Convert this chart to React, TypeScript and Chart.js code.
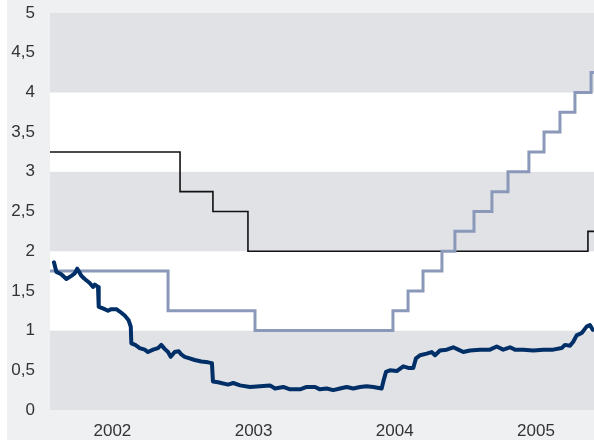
import React, { useEffect, useRef } from "react";
import { Chart, registerables } from "chart.js";

Chart.register(...registerables);

// x values are decimal years
const xMin = 2002.058;
const xMax = 2005.911;
const yearTicks = [2002.5, 2003.5, 2004.5, 2005.5];
const yTickValues = [0, 0.5, 1, 1.5, 2, 2.5, 3, 3.5, 4, 4.5, 5];

const ecbDates = [2002.058, 2002.979, 2003.212, 2003.46, 2005.868, 2005.911];
const ecbRates = [3.25, 2.75, 2.5, 2.0, 2.25, 2.25];

const fedDates = [
  2002.058, 2002.894, 2003.51, 2004.487, 2004.594, 2004.7, 2004.834, 2004.926,
  2005.061, 2005.188, 2005.302, 2005.45, 2005.557, 2005.67, 2005.776, 2005.89, 2005.911,
];
const fedRates = [
  1.75, 1.25, 1.0, 1.25, 1.5, 1.75, 2.0, 2.25, 2.5, 2.75, 3.0, 3.25, 3.5, 3.75, 4.0, 4.25, 4.25,
];

const liborDates = [
  2002.086, 2002.103, 2002.138, 2002.174, 2002.209, 2002.233, 2002.251, 2002.28, 2002.304,
  2002.339, 2002.363, 2002.375, 2002.398, 2002.403, 2002.433, 2002.469, 2002.492, 2002.528,
  2002.552, 2002.587, 2002.615, 2002.63, 2002.634, 2002.662, 2002.693, 2002.729, 2002.752,
  2002.788, 2002.823, 2002.846, 2002.87, 2002.894, 2002.913, 2002.941, 2002.97, 2002.988,
  2003.012, 2003.047, 2003.083, 2003.13, 2003.177, 2003.205, 2003.212, 2003.248, 2003.319,
  2003.356, 2003.404, 2003.475, 2003.545, 2003.616, 2003.652, 2003.71, 2003.758, 2003.829,
  2003.876, 2003.935, 2003.97, 2004.018, 2004.064, 2004.112, 2004.159, 2004.206, 2004.254,
  2004.301, 2004.348, 2004.407, 2004.419, 2004.438, 2004.466, 2004.514, 2004.56, 2004.596,
  2004.631, 2004.65, 2004.679, 2004.726, 2004.761, 2004.785, 2004.82, 2004.868, 2004.914,
  2004.95, 2004.985, 2005.033, 2005.103, 2005.174, 2005.222, 2005.268, 2005.316, 2005.351,
  2005.41, 2005.481, 2005.552, 2005.622, 2005.682, 2005.705, 2005.741, 2005.764, 2005.788,
  2005.824, 2005.859, 2005.882, 2005.902,
];
const liborRates = [
  1.86, 1.74, 1.71, 1.65, 1.69, 1.72, 1.78, 1.69, 1.65,
  1.6, 1.55, 1.58, 1.55, 1.3, 1.28, 1.25, 1.27, 1.27,
  1.24, 1.19, 1.13, 1.05, 0.84, 0.82, 0.78, 0.76, 0.73,
  0.76, 0.78, 0.82, 0.77, 0.73, 0.67, 0.73, 0.74, 0.7,
  0.67, 0.65, 0.63, 0.61, 0.6, 0.59, 0.36, 0.35, 0.32,
  0.34, 0.31, 0.29, 0.3, 0.31, 0.27, 0.29, 0.26, 0.26,
  0.29, 0.29, 0.26, 0.27, 0.25, 0.27, 0.29, 0.27, 0.29,
  0.3, 0.29, 0.27, 0.36, 0.48, 0.5, 0.49, 0.55, 0.53,
  0.53, 0.65, 0.69, 0.71, 0.73, 0.69, 0.75, 0.76, 0.79,
  0.76, 0.73, 0.75, 0.76, 0.76, 0.8, 0.76, 0.79, 0.76,
  0.76, 0.75, 0.76, 0.76, 0.78, 0.82, 0.81, 0.86, 0.94,
  0.97, 1.05, 1.07, 1.01,
];

const bands = [
  { from: 0, to: 1, color: "#e1e2e6" },
  { from: 1, to: 2, color: "#ffffff" },
  { from: 2, to: 3, color: "#e1e2e6" },
  { from: 3, to: 4, color: "#ffffff" },
  { from: 4, to: 5, color: "#e1e2e6" },
];

const zip = (xs: number[], ys: number[]) => xs.map((x, i) => ({ x, y: ys[i] }));

const bandPlugin = {
  id: "bands",
  beforeDatasetsDraw(chart: any) {
    const { ctx, chartArea, scales } = chart;
    const y = scales.y;
    ctx.save();
    bands.forEach((b) => {
      const top = y.getPixelForValue(b.to);
      const bottom = y.getPixelForValue(b.from);
      ctx.fillStyle = b.color;
      ctx.fillRect(chartArea.left, top, chartArea.right - chartArea.left, bottom - top);
    });
    ctx.restore();
  },
};

export default function App() {
  const ref = useRef<HTMLCanvasElement | null>(null);
  useEffect(() => {
    if (!ref.current) return;
    const font = { family: "'Liberation Sans', Arial, sans-serif", size: 17 };
    const chart = new Chart(ref.current, {
      type: "line",
      data: {
        datasets: [
          {
            data: zip(liborDates, liborRates),
            borderColor: "#002f68",
            borderWidth: 4,
            pointRadius: 0,
            tension: 0,
            borderJoinStyle: "round",
            borderCapStyle: "round",
          },
          {
            data: zip(fedDates, fedRates),
            borderColor: "#8a99b9",
            borderWidth: 3,
            pointRadius: 0,
            stepped: "before",
          },
          {
            data: zip(ecbDates, ecbRates),
            borderColor: "#111111",
            borderWidth: 1.6,
            pointRadius: 0,
            stepped: "before",
          },
        ],
      },
      options: {
        animation: false,
        responsive: false,
        maintainAspectRatio: false,
        layout: { padding: { top: 0, right: 0, bottom: 0, left: 0 } },
        plugins: { legend: { display: false }, tooltip: { enabled: false } },
        scales: {
          x: {
            type: "linear",
            min: xMin,
            max: xMax,
            grid: { display: false, drawTicks: false },
            border: { display: false },
            afterBuildTicks: (scale: any) => {
              scale.ticks = yearTicks.map((v) => ({ value: v }));
            },
            afterFit: (scale: any) => {
              scale.height = 30;
              scale.paddingLeft = 0;
              scale.paddingRight = 0;
            },
            ticks: {
              font,
              color: "#333333",
              padding: 11,
              maxRotation: 0,
              autoSkip: false,
              callback: (v: any) => String(Math.floor(Number(v))),
            },
          },
          y: {
            type: "linear",
            min: 0,
            max: 5,
            grid: { display: false, drawTicks: false },
            border: { display: false },
            afterBuildTicks: (scale: any) => {
              scale.ticks = yTickValues.map((v) => ({ value: v }));
            },
            afterFit: (scale: any) => {
              scale.width = 43;
              scale.paddingTop = 13;
              scale.paddingBottom = 0;
            },
            ticks: {
              font,
              color: "#333333",
              padding: 15,
              callback: (v: any) => String(v).replace(".", ","),
            },
          },
        },
      },
      plugins: [bandPlugin],
    });
    return () => chart.destroy();
  }, []);

  return (
    <div style={{ position: "fixed", left: 0, top: 0, width: 594, height: 440, background: "#ffffff" }}>
      <div style={{ position: "absolute", left: 7, top: 0, width: 587, height: 440, background: "#eff0f2" }}>
        <canvas ref={ref} width={587} height={440} style={{ display: "block", width: 587, height: 440 }} />
      </div>
    </div>
  );
}
